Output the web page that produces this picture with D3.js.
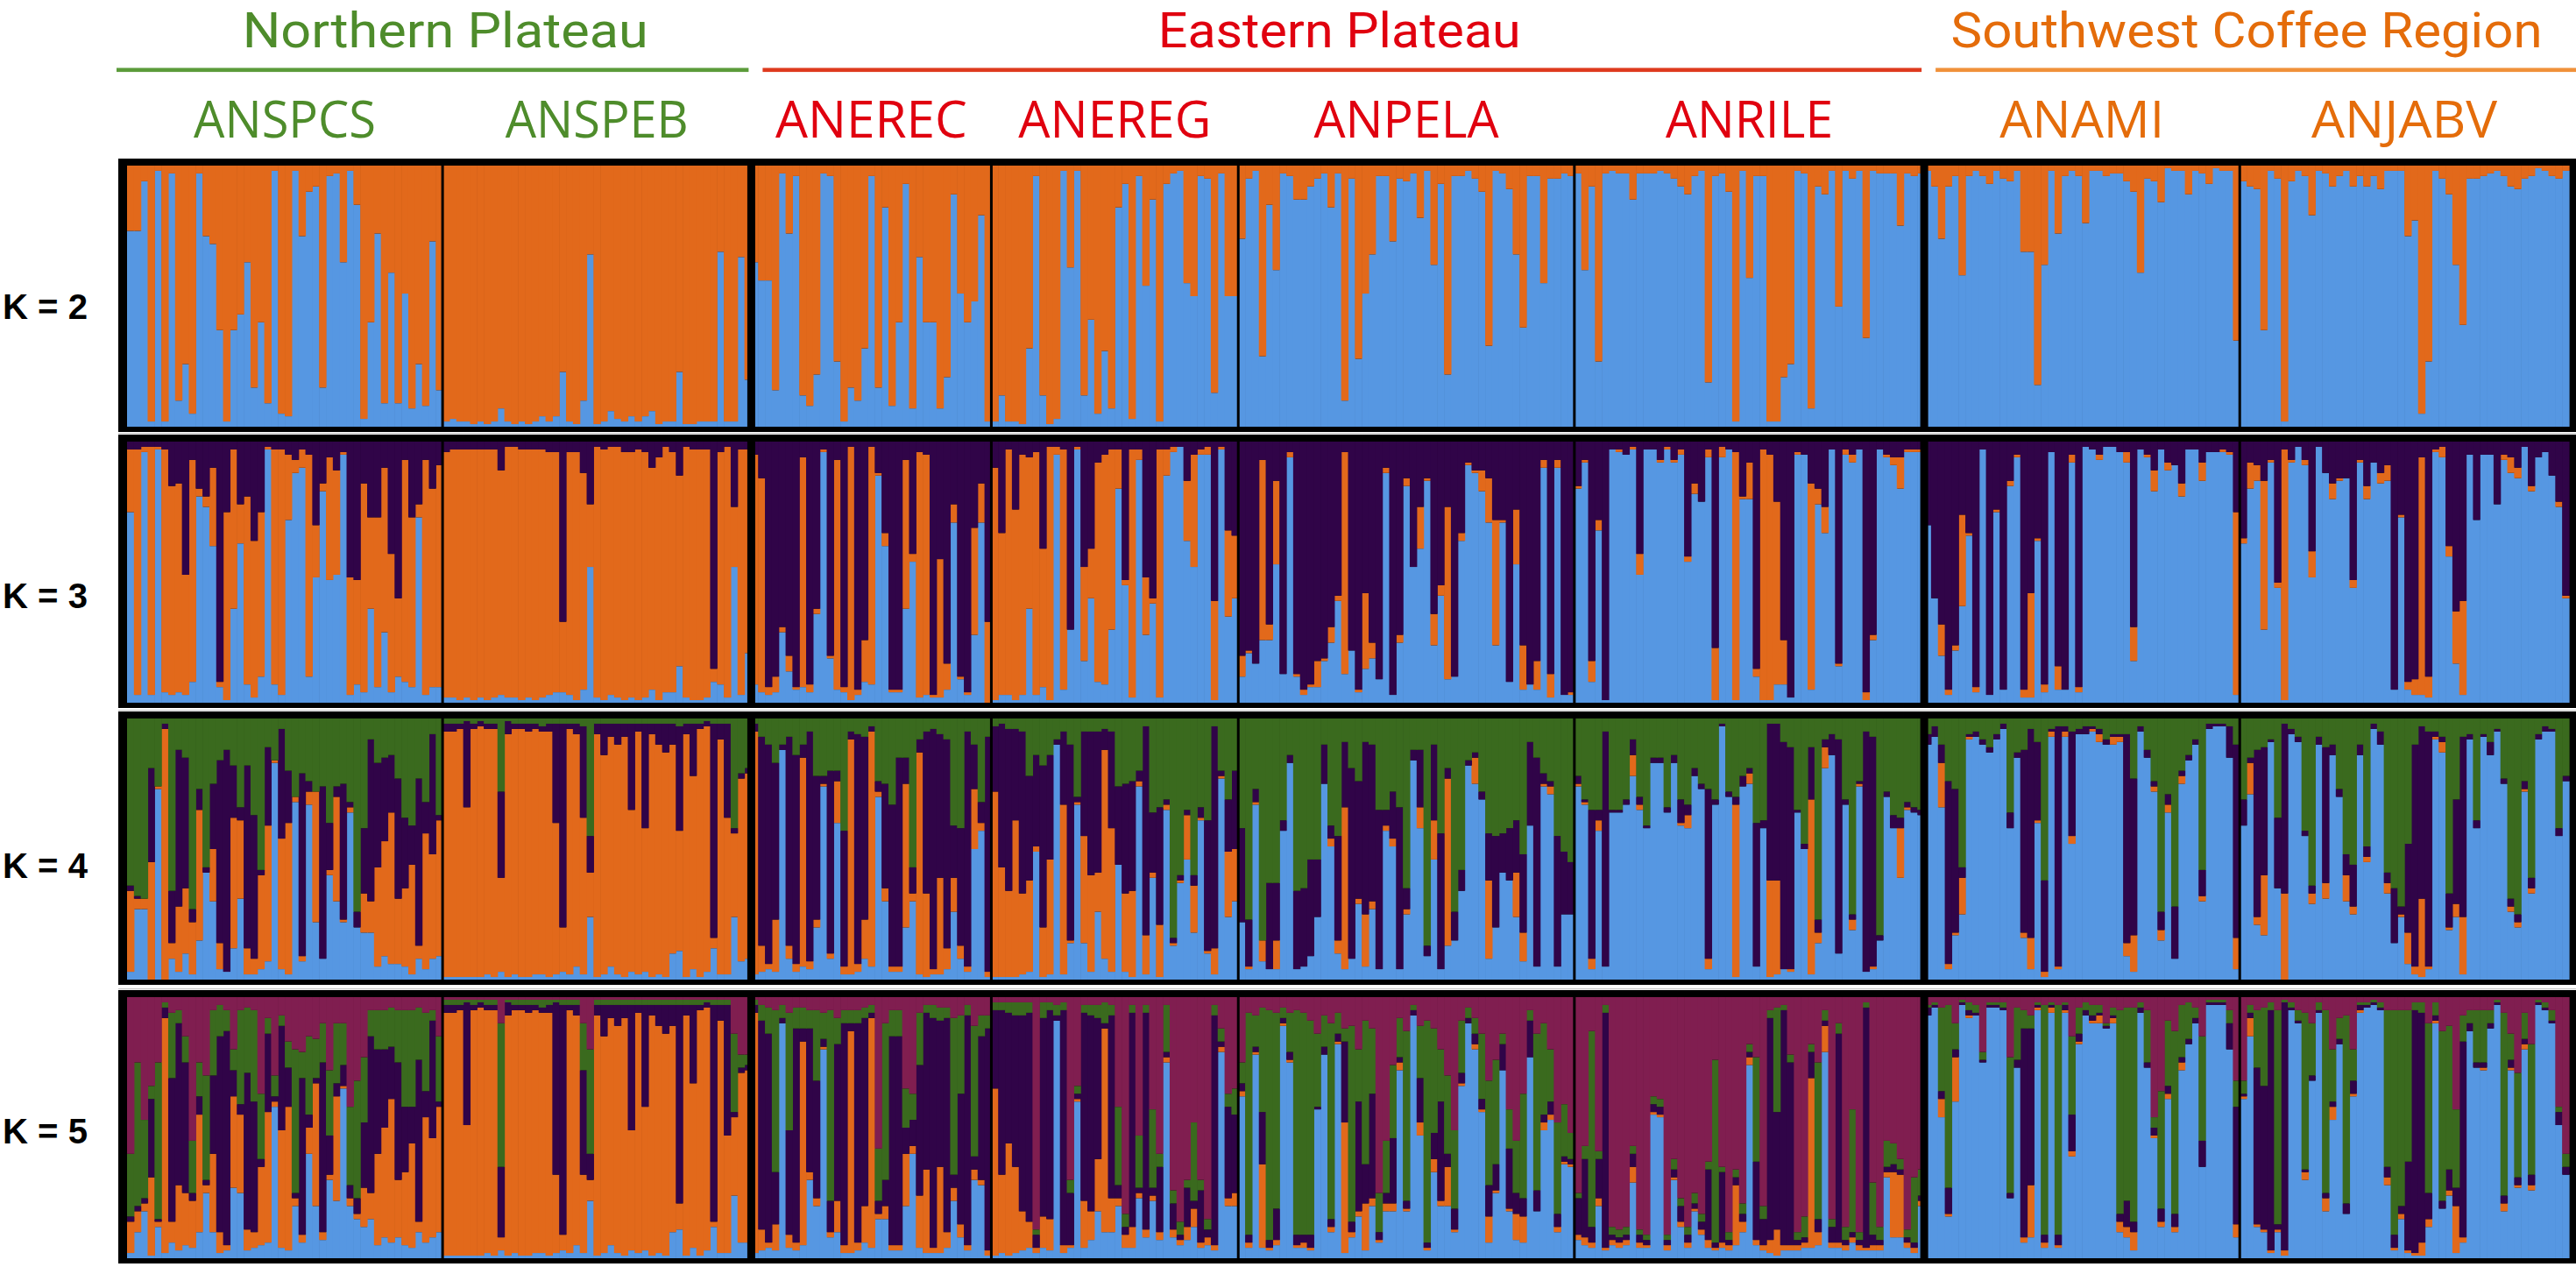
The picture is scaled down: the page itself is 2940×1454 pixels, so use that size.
<!DOCTYPE html>
<html>
<head>
<meta charset="utf-8">
<script src="https://cdn.jsdelivr.net/npm/d3@7"></script>
<style>
html,body{margin:0;padding:0;background:#fff;overflow:hidden;}
svg{display:block;}
</style>
</head>
<body>
<svg id="chart" width="2940" height="1454"></svg>
<script>
// ---------------- data ----------------
const populations = ["ANSPCS","ANSPEB","ANEREC","ANEREG","ANPELA","ANRILE","ANAMI","ANJABV"];
const popSizes    = [46,45,35,36,49,51,46,48];
const popRegion   = [0,0,1,1,1,1,2,2];
const regionNames = ["Northern Plateau","Eastern Plateau","Southwest Coffee Region"];
const kLabels     = ["K = 2","K = 3","K = 4","K = 5"];
// cluster order, bottom to top: blue, orange, purple, green, maroon
const clusterColors = ["#5697E2","#E2691B","#300448","#3A6A1E","#801E50"];

// K=2: % blue (orange is the rest)
const k2Blue = [
 75,75,94,2,98,2,97,10,24,5, 97,73,70,37,2,37,43,63,15,40, 9,98,5,4,98,73,90,92,15,96, 97,63,98,85,3,40,74,9,59,9, 51,7,24,8,71,14,
 2,3,2,2,1,2,1,2,7,2, 1,2,1,2,4,2,4,21,2,1, 10,66,1,2,6,3,2,4,2,4, 6,1,2,2,21,1,1,2,2,2, 67,2,2,65,18,
 63,56,56,14,97,74,96,12,8,20, 97,96,25,2,15,10,30,96,15,84, 8,40,93,7,65,40,40,7,19,89, 51,40,48,81,2,
 2,12,2,2,1,30,96,12,1,3, 98,61,98,12,41,5,29,7,84,93, 3,96,54,87,2,93,97,98,55,50, 96,95,13,97,50,50,
 72,95,98,27,85,60,97,96,87,87, 92,95,97,84,97,10,95,26,51,66, 96,96,71,95,94,97,80,98,62,93, 20,96,96,98,95,90,31,98,97,91, 66,38,96,96,55,95,95,97,96,
 97,60,92,25,97,98,97,97,87,97, 97,97,98,97,95,92,89,96,98,17, 96,97,90,2,98, 57,96,96,2,2,19,24,98,97,7, 92,89,98,46,98,95,98,34,98,97, 97,97,77,97,96,97,
 98,92,72,92,96,58,96,98,96,93, 98,95,94,98,67,67,16,62,98,74, 96,98,96,78,98,98,96,97,97,94, 90,59,95,94,86,99,98,98,89,98, 97,93,99,98,98,33,
 94,92,91,37,98,95,2,94,98,96, 81,98,97,92,96,98,92,96,92,96, 91,98,98,98,73,79,5,25,98,95, 89,62,39,95,95,96,97,98,96,92, 91,95,96,99,98,96,95,98
];

// K=3: [% blue, % orange] (purple is the rest)
const k3Data = [
 [73,24],[3,94],[96,2],[3,95],[97,1],[4,93],[3,80],[4,80],[3,46],[8,85],
 [79,3],[75,4],[60,30],[6,2],[1,72],[36,61],[61,15],[7,72],[2,60],[10,63],
 [97,1],[7,90],[3,94],[70,25],[88,5],[90,7],[10,85],[48,20],[81,3],[47,47],
 [49,40],[95,1],[3,45],[7,40],[4,80],[36,35],[6,65],[27,63],[4,53],[10,30],
 [8,85],[6,65],[71,5],[3,90],[6,76],[6,85],
 [2,94],[2,95],[1,96],[2,95],[1,96],[2,95],[1,96],[2,95],[3,86],[2,96],
 [2,96],[1,96],[2,95],[1,96],[2,95],[3,93],[4,92],[4,27],[3,93],[1,95],
 [5,83],[52,24],[2,96],[1,96],[3,95],[2,96],[1,95],[2,94],[1,96],[2,94],
 [5,85],[1,93],[4,94],[4,92],[14,73],[2,96],[1,96],[1,96],[2,95],[8,5],
 [7,89],[2,96],[52,23],[3,94],[19,78],
 [7,88],[4,82],[3,3],[4,6],[27,2],[12,6],[5,1],[6,88],[4,3],[34,2],
 [96,1],[17,1],[5,88],[4,2],[1,97],[3,2],[8,16],[7,91],[87,1],[60,5],
 [4,1],[4,1],[36,57],[54,3],[2,94],[3,92],[2,1],[2,53],[5,10],[69,7],
 [9,1],[3,1],[26,41],[69,15],[0,31],
 [1,89],[3,62],[3,94],[1,73],[3,92],[36,58],[3,93],[6,53],[1,97],[95,3],
 [5,92],[28,0],[97,1],[16,36],[40,19],[8,84],[7,88],[28,69],[82,15],[45,2],
 [2,95],[93,4],[26,22],[38,2],[2,95],[87,10],[96,2],[98,0],[62,23],[52,43],
 [95,2],[95,3],[1,38],[97,1],[33,33],[40,24],
 [10,8],[19,1],[15,0],[24,69],[24,6],[53,32],[11,0],[94,2],[10,1],[3,2],
 [6,1],[6,10],[16,1],[23,6],[39,2],[11,85],[20,0],[4,1],[13,29],[17,6],
 [9,0],[88,2],[3,0],[23,3],[83,3],[52,0],[59,16],[85,1],[22,12],[41,4],
 [9,66],[10,0],[62,3],[91,1],[88,1],[81,8],[69,17],[22,48],[69,1],[8,0],
 [53,21],[5,17],[7,0],[5,11],[90,3],[2,9],[90,3],[3,0],[3,1],
 [82,1],[92,1],[8,8],[66,4],[1,0],[97,0],[96,1],[95,0],[97,1],[49,8],
 [97,0],[97,0],[92,1],[97,1],[92,1],[95,2],[54,2],[80,4],[77,0],[94,3],
 [1,20],[94,4],[97,0],[1,95],[78,1],[78,14],[10,3],[1,96],[1,94],[7,70],
 [7,17],[2,0],[95,1],[95,0],[5,79],[76,6],[65,10],[97,0],[14,1],[95,2],
 [92,3],[97,0],[1,3],[24,2],[97,0],[94,1],[91,3],[82,12],[96,1],[96,1],
 [96,1],
 [68,0],[40,0],[18,12],[3,2],[20,2],[37,35],[64,1],[4,2],[97,0],[3,0],
 [73,1],[5,0],[83,2],[94,1],[2,3],[2,40],[62,1],[4,3],[96,0],[5,9],
 [5,0],[92,3],[4,2],[98,0],[97,0],[93,2],[98,0],[98,0],[96,0],[92,4],
 [16,13],[97,0],[94,1],[81,8],[97,0],[89,3],[91,0],[79,5],[97,0],[97,0],
 [85,7],[96,0],[96,0],[96,1],[95,1],[3,70],
 [61,2],[82,10],[85,6],[28,57],[92,1],[44,2],[1,96],[92,1],[98,0],[91,2],
 [48,10],[98,0],[88,0],[78,6],[85,1],[86,0],[44,3],[92,1],[78,5],[92,0],
 [84,4],[85,6],[5,0],[71,1],[5,3],[3,6],[3,91],[2,8],[96,1],[94,4],
 [56,4],[15,20],[3,36],[95,0],[70,0],[95,0],[95,0],[76,0],[93,2],[88,6],
 [86,4],[98,0],[81,2],[94,0],[96,0],[87,0],[75,2],[40,1]
];

// K=4: [% blue, % orange, % purple, % green]
const k4Data = [
 [3,31,2,64],[27,4,1,68],[27,4,0,69],[0,45,36,19],[73,1,0,26],[0,96,2,2],[8,6,20,66],[3,25,60,12],[10,25,50,15],[2,20,5,73],
 [15,50,8,27],[41,0,2,57],[30,20,25,25],[4,10,70,16],[3,0,85,12],[12,50,20,18],[31,30,5,34],[2,10,70,18],[2,6,55,37],[4,36,2,58],
 [7,52,30,11],[83,1,0,16],[4,50,42,4],[2,58,20,20],[68,2,0,30],[7,2,70,21],[67,5,4,24],[22,50,0,28],[8,0,66,26],[40,2,18,40],
 [30,40,4,26],[22,1,52,25],[64,2,2,32],[20,0,6,74],[18,15,25,42],[18,12,62,8],[5,38,40,17],[9,44,32,15],[6,58,22,14],[6,25,46,23],
 [5,30,27,38],[2,42,15,41],[8,5,64,23],[4,52,12,32],[8,40,46,6],[9,52,2,37],
 [1,94,3,2],[1,94,3,2],[1,95,2,2],[1,65,33,1],[1,95,2,2],[1,96,2,1],[2,94,2,2],[1,95,2,2],[3,36,33,28],[1,93,5,1],
 [2,94,2,2],[1,95,2,2],[1,94,3,2],[2,94,2,2],[2,93,2,3],[1,94,3,2],[2,58,38,2],[3,17,78,2],[2,94,2,2],[5,89,4,2],
 [2,60,35,3],[24,17,14,45],[1,93,4,2],[2,84,12,2],[5,88,5,2],[2,88,8,2],[1,92,5,2],[3,62,33,2],[2,93,3,2],[3,55,40,2],
 [1,93,4,2],[2,88,8,2],[1,86,11,2],[10,80,8,2],[11,46,40,3],[1,93,4,2],[4,74,20,2],[1,95,2,2],[3,94,2,1],[12,4,82,2],
 [2,90,6,2],[2,60,36,2],[24,32,2,42],[7,70,2,21],[8,71,2,19],
 [2,93,3,2],[3,10,80,7],[4,2,84,10],[3,20,60,17],[88,0,2,10],[8,5,80,7],[3,3,80,14],[5,80,5,10],[4,3,88,5],[20,3,55,22],
 [74,1,3,22],[8,2,70,20],[60,16,4,20],[2,3,52,43],[2,90,3,5],[3,3,88,6],[8,15,70,7],[5,90,2,3],[70,2,4,24],[30,5,40,25],
 [3,2,62,33],[3,2,80,15],[20,55,10,15],[30,3,10,57],[2,85,5,8],[1,32,62,5],[2,2,92,4],[2,37,55,6],[4,8,80,8],[26,13,20,41],
 [8,5,45,42],[3,2,90,5],[50,23,17,10],[57,3,8,32],[1,2,90,7],
 [1,71,25,3],[1,42,55,2],[1,33,62,4],[1,60,35,4],[2,31,62,5],[3,35,40,22],[49,2,35,14],[1,19,62,18],[2,44,40,14],[90,0,2,8],
 [2,65,28,5],[14,1,75,10],[67,1,2,30],[14,41,40,5],[3,37,55,5],[26,15,54,5],[8,80,8,4],[3,55,37,5],[44,0,30,26],[3,30,42,25],
 [1,33,42,24],[74,2,4,20],[2,15,80,3],[39,2,23,36],[1,20,45,34],[65,2,2,31],[13,1,2,84],[37,1,2,60],[46,17,2,35],[18,18,4,60],
 [61,1,4,34],[10,1,50,39],[2,10,85,3],[77,1,2,20],[24,25,20,31],[30,20,30,20],
 [22,0,36,42],[4,1,18,77],[67,1,5,27],[7,8,0,85],[4,0,33,63],[4,11,22,63],[57,0,4,39],[83,0,3,14],[4,0,30,66],[5,0,30,65],
 [9,0,37,54],[24,0,22,54],[75,0,15,10],[51,3,5,41],[10,5,40,45],[4,62,25,9],[8,0,73,19],[29,2,45,24],[5,20,66,9],[27,3,60,10],
 [4,0,61,35],[57,2,6,35],[51,3,18,28],[4,0,62,34],[25,2,8,65],[84,0,4,12],[58,8,22,12],[9,0,4,87],[46,15,29,10],[4,0,52,44],
 [13,64,4,19],[15,0,11,74],[34,0,8,58],[82,0,2,16],[75,10,2,13],[69,0,3,28],[8,30,18,44],[20,0,35,45],[41,0,15,44],[38,0,20,42],
 [24,17,20,39],[7,11,30,52],[59,0,32,9],[5,0,80,15],[74,1,4,21],[71,3,2,24],[5,0,50,45],[25,0,24,51],[25,0,20,55],
 [74,1,3,22],[67,1,1,31],[4,4,57,35],[57,4,4,35],[5,0,90,5],[64,0,1,35],[64,0,1,35],[67,0,2,31],[78,8,6,8],[65,2,3,30],
 [58,0,1,41],[83,0,2,15],[83,0,2,15],[64,0,2,34],[83,0,3,14],[59,1,9,31],[58,5,4,33],[78,0,3,19],[73,0,2,25],[4,4,65,27],
 [67,0,2,31],[97,0,1,2],[70,0,2,28],[1,66,3,30],[74,0,4,22],
 [75,4,2,19],[5,0,55,40],[58,0,3,39],[1,37,60,2],[2,36,60,2],[4,0,87,9],[3,1,85,11],[64,0,1,35],[50,0,2,48],[2,67,20,11],
 [14,4,5,77],[81,8,3,8],[86,0,8,6],[10,0,82,8],[67,0,2,31],[19,4,2,75],[74,1,1,24],[3,0,92,5],[4,1,88,7],[15,0,2,83],
 [70,0,2,28],[58,0,5,37],[39,19,4,38],[65,1,2,32],[64,0,2,34],[63,0,2,35],
 [90,0,4,6],[93,0,4,3],[66,17,7,10],[4,2,70,24],[17,1,55,27],[25,14,4,57],[92,1,1,6],[93,0,2,5],[90,0,2,8],[87,0,2,11],
 [92,0,2,6],[96,0,2,2],[58,0,6,36],[85,0,2,13],[16,2,70,12],[4,12,80,4],[60,1,30,9],[1,2,35,62],[93,2,1,4],[4,1,92,3],
 [93,2,2,3],[52,3,40,5],[94,0,2,4],[94,0,3,3],[95,1,1,3],[91,3,2,4],[90,0,2,8],[90,3,1,6],[91,2,1,6],[9,5,80,6],
 [3,14,60,23],[95,0,2,3],[85,0,3,12],[72,2,2,24],[15,4,7,74],[64,3,4,29],[8,0,20,72],[75,3,2,20],[84,0,2,14],[90,0,2,8],
 [30,2,10,58],[96,0,2,2],[97,0,1,2],[97,0,1,2],[85,0,12,3],[4,12,74,10],
 [59,0,10,31],[71,12,2,15],[21,3,64,12],[17,23,49,11],[91,0,1,8],[35,0,27,38],[0,33,65,2],[94,0,2,4],[91,0,2,7],[55,0,2,43],
 [29,4,3,64],[90,0,3,7],[31,6,52,11],[86,0,4,10],[70,0,3,27],[30,10,8,52],[25,3,16,56],[86,0,4,10],[45,2,4,49],[96,0,2,2],
 [90,0,5,5],[33,4,4,59],[14,0,21,65],[24,1,3,72],[6,12,34,48],[2,3,85,10],[1,30,66,3],[4,1,90,5],[92,1,2,5],[87,4,2,7],
 [19,1,13,67],[24,5,40,31],[2,22,69,7],[92,0,2,6],[58,0,3,39],[93,0,1,6],[86,0,5,9],[95,0,1,4],[75,0,2,23],[26,2,3,69],
 [20,2,3,75],[72,1,3,24],[33,2,4,61],[92,0,2,6],[95,0,2,3],[95,0,1,4],[55,0,3,42],[76,0,2,22]
];

// K=5: [% blue, % orange, % purple, % green, % maroon]
const k5Data = [
 [2,12,2,24,60],[10,8,2,55,25],[18,3,2,30,47],[1,30,30,5,34],[12,2,1,60,25],[2,90,4,2,2],[6,8,55,25,6],[3,25,62,5,5],[5,20,50,10,15],[4,18,3,20,55],
 [10,45,7,13,25],[25,3,2,40,30],[10,30,30,25,5],[2,8,75,12,3],[3,2,82,8,5],[27,35,10,8,20],[25,30,4,36,5],[3,8,60,25,4],[4,6,50,35,5],[5,30,3,25,37],
 [6,50,30,6,8],[58,2,2,8,30],[4,45,40,4,7],[3,55,15,10,17],[20,3,2,55,20],[6,3,60,10,21],[40,10,5,30,15],[20,47,2,15,16],[7,3,65,15,10],[30,2,15,25,28],
 [22,40,5,23,10],[65,1,8,16,10],[20,3,5,30,42],[15,2,6,45,32],[12,15,25,25,23],[15,10,60,10,5],[5,35,40,15,5],[8,42,30,15,5],[6,55,20,15,4],[8,22,45,20,5],
 [5,28,25,37,5],[4,40,14,37,5],[10,4,62,20,4],[6,48,10,30,6],[8,38,45,4,5],[10,48,2,25,15],
 [1,93,3,2,1],[1,93,3,2,1],[1,94,2,2,1],[1,50,47,1,1],[1,94,2,2,1],[1,95,2,1,1],[2,93,2,2,1],[1,94,2,2,1],[3,5,27,55,10],[1,92,5,1,1],
 [2,93,2,2,1],[1,94,2,2,1],[1,93,3,2,1],[2,93,2,2,1],[2,92,2,3,1],[1,93,3,2,1],[2,30,66,1,1],[3,6,88,2,1],[2,93,2,2,1],[5,88,4,2,1],
 [2,30,40,18,10],[22,8,10,40,20],[1,92,4,2,1],[2,83,12,2,1],[5,87,5,2,1],[2,87,8,2,1],[1,91,5,2,1],[3,46,48,2,1],[2,92,3,2,1],[3,55,39,2,1],
 [1,92,4,2,1],[2,87,8,2,1],[1,85,11,2,1],[10,79,8,2,1],[11,10,76,2,1],[1,92,4,2,1],[4,63,30,2,1],[1,94,2,2,1],[3,93,2,1,1],[12,2,83,2,1],
 [2,89,6,2,1],[2,45,50,2,1],[24,30,2,30,14],[6,65,2,5,22],[6,66,2,4,22],
 [2,92,3,2,1],[3,8,80,6,3],[4,2,80,10,4],[3,10,20,62,5],[90,0,2,5,3],[4,5,40,45,6],[3,3,82,8,4],[5,78,5,8,4],[30,3,55,7,5],[20,3,45,27,5],
 [80,1,3,10,6],[8,2,12,73,5],[10,12,60,10,8],[2,3,85,5,5],[2,85,3,5,5],[3,3,84,5,5],[6,14,72,4,4],[4,88,2,3,3],[15,2,5,20,58],[15,5,10,60,10],
 [3,2,80,10,5],[3,2,80,10,5],[20,20,10,15,35],[40,3,10,10,37],[4,20,50,20,6],[2,32,60,3,3],[2,2,88,5,3],[2,33,56,5,4],[4,6,82,4,4],[22,5,5,60,8],
 [8,5,50,30,7],[3,2,88,4,3],[30,4,5,50,11],[28,2,55,8,7],[1,2,85,5,7],
 [1,64,30,3,2],[2,30,63,3,2],[1,43,50,4,2],[2,33,58,5,2],[3,15,75,5,2],[4,10,80,4,2],[2,2,5,2,89],[4,12,76,6,2],[3,12,80,3,2],[91,0,2,4,3],
 [2,3,90,3,2],[4,1,20,5,70],[60,1,2,3,34],[4,18,72,3,3],[7,11,75,4,3],[18,20,54,5,3],[10,78,2,8,2],[10,13,70,4,3],[20,3,5,30,42],[4,5,3,5,83],
 [4,8,82,3,3],[23,2,2,20,53],[8,3,83,3,3],[22,2,3,30,43],[7,3,25,5,60],[75,2,2,18,3],[8,3,10,5,74],[5,2,2,5,86],[7,5,15,3,70],[12,7,3,30,48],
 [4,2,20,4,70],[5,3,3,4,85],[3,2,88,4,3],[79,2,2,5,12],[20,3,35,5,37],[20,5,30,10,35],
 [62,2,3,8,25],[4,2,3,85,6],[78,1,2,12,7],[4,32,20,40,4],[3,1,3,88,5],[5,2,12,75,6],[89,1,2,4,4],[75,1,3,15,6],[4,1,4,86,5],[4,2,3,85,6],
 [3,1,5,82,9],[57,0,1,28,14],[78,0,3,12,7],[10,2,3,75,10],[82,1,3,8,6],[2,50,31,5,12],[8,2,4,75,11],[16,2,42,20,20],[3,18,15,55,9],[20,3,40,25,12],
 [6,1,3,15,75],[18,3,4,20,55],[18,3,25,28,26],[72,3,2,15,8],[18,1,3,65,13],[93,0,2,2,3],[47,5,17,20,11],[3,1,2,85,9],[33,5,10,40,12],[20,2,38,20,20],
 [20,15,5,30,30],[10,1,8,30,51],[66,1,4,20,9],[90,0,2,4,4],[80,2,4,6,8],[56,1,4,25,14],[6,10,12,40,32],[25,1,10,40,24],[72,0,10,4,14],[18,1,23,15,43],
 [7,10,8,20,55],[6,10,7,40,37],[77,0,14,4,5],[18,0,8,60,14],[49,3,3,35,10],[53,2,5,20,20],[10,2,5,35,48],[36,1,2,20,41],[35,1,2,10,52],
 [7,2,14,2,75],[5,3,30,5,57],[4,2,6,75,13],[20,3,15,3,59],[3,1,90,3,3],[5,2,2,3,88],[4,2,2,3,89],[5,2,2,3,88],[29,6,5,3,57],[4,2,3,2,89],
 [4,1,2,2,91],[55,1,3,3,38],[54,1,3,3,39],[3,2,2,2,91],[30,1,3,4,62],[12,2,6,3,77],[4,2,3,3,88],[18,1,2,4,75],[9,2,3,3,83],[4,3,27,3,63],
 [3,1,2,70,24],[4,2,27,2,65],[3,2,2,3,90],[5,23,3,3,66],[10,4,3,4,79],
 [74,3,2,3,18],[5,2,30,40,23],[3,2,10,5,80],[2,5,85,3,5],[1,10,45,40,4],[3,2,90,2,3],[3,2,70,3,22],[3,2,2,3,90],[4,2,2,8,84],[4,65,10,3,18],
 [5,5,5,60,25],[79,10,2,4,5],[4,2,6,3,85],[4,2,80,4,10],[3,2,2,5,88],[6,2,2,47,43],[3,2,2,3,90],[3,1,92,2,2],[3,2,4,20,71],[3,2,2,5,88],
 [31,2,2,10,55],[8,25,3,8,56],[8,24,2,4,62],[4,2,2,3,89],[2,2,2,25,69],[20,2,2,10,66],
 [93,0,3,1,3],[96,0,1,1,2],[54,7,3,32,4],[16,1,10,70,3],[60,17,3,10,10],[97,0,1,1,1],[92,1,2,3,2],[93,0,1,3,3],[75,0,1,3,21],[96,0,1,1,2],
 [96,0,1,1,2],[95,0,1,2,2],[23,0,2,52,23],[73,0,3,20,4],[6,2,80,7,5],[8,20,60,5,7],[95,1,1,1,2],[4,2,3,88,3],[94,2,1,1,2],[4,1,4,88,3],
 [94,1,2,1,2],[39,2,14,30,15],[82,1,3,10,4],[93,0,2,3,2],[90,1,2,4,3],[90,3,1,3,3],[88,0,1,1,10],[90,2,1,3,4],[10,4,3,78,5],[8,4,10,74,4],
 [3,7,4,82,4],[94,0,2,2,2],[73,0,2,20,5],[46,1,3,4,46],[12,2,5,45,36],[61,2,3,25,9],[10,2,5,70,13],[72,3,2,20,3],[82,0,2,14,2],[90,0,2,4,4],
 [35,0,10,40,15],[97,0,1,1,1],[97,0,1,1,1],[97,0,1,1,1],[80,0,10,5,5],[8,5,45,10,32],
 [61,1,1,5,32],[85,7,2,3,3],[12,1,60,22,5],[10,1,55,30,4],[2,1,92,3,2],[10,1,2,82,5],[1,2,95,1,1],[95,0,1,2,2],[90,0,1,4,5],[30,3,1,60,6],
 [68,0,2,20,10],[94,0,1,3,2],[18,5,2,70,5],[53,5,2,20,20],[82,0,2,8,8],[17,0,4,72,7],[62,1,5,12,20],[94,1,2,1,2],[96,0,1,1,2],[97,0,1,1,1],
 [95,0,1,2,2],[28,3,4,60,5],[3,1,5,86,5],[15,2,3,75,5],[2,1,34,58,5],[1,1,93,3,2],[1,5,88,4,2],[12,3,10,65,10],[90,1,2,5,2],[19,0,3,65,13],
 [24,2,8,55,11],[2,18,7,30,43],[6,2,75,10,7],[87,0,3,5,5],[73,0,2,20,5],[72,1,2,20,5],[88,0,2,5,5],[97,0,1,1,1],[18,3,3,70,6],[72,1,3,10,14],
 [27,1,3,40,29],[80,2,2,10,6],[26,2,4,50,18],[97,0,1,1,1],[95,0,1,2,2],[90,0,1,4,5],[51,0,5,2,42],[32,0,3,5,60]
];

// ---------------- layout / style ----------------
const W = 2940, H = 1454;
const plotLeft = 145, plotRight = 2932;
const rowTops = [189, 504, 820, 1138];
const rowH = 298;
const kLabelOffset = [12, 27, 19, 4];
const regionTextColors = ["#4E8C2B", "#E0000F", "#E46C0A"];
const regionLineColors = ["#5B9B3A", "#DE3A1E", "#F0913A"];
const popLabelWidths = [208, 209, 219, 220, 211, 191, 188, 212];
const regionLabelWidths = [463, 414, 675];

const svg = d3.select("#chart");
svg.append("rect").attr("width", W).attr("height", H).attr("fill", "#fff");

const N = d3.sum(popSizes);
const x = d3.scaleBand().domain(d3.range(N)).range([plotLeft, plotRight]).padding(0);
const popStart = d3.cumsum([0, ...popSizes]).slice(0, popSizes.length);
const popEnd = popStart.map((s, i) => s + popSizes[i]);
const xAt = idx => idx >= N ? plotRight : x(idx);

const datasets = [k2Blue.map(b => [b]), k3Data, k4Data, k5Data];

datasets.forEach((rows, r) => {
  const K = r + 2;
  const table = rows.map(v => {
    const vals = v.slice(0, K);
    if (vals.length < K) vals.push(Math.max(0, 100 - d3.sum(vals)));
    const tot = d3.sum(vals) || 1;
    const o = {};
    vals.forEach((q, j) => { o[j] = q / tot; });
    return o;
  });
  const series = d3.stack().keys(d3.range(K))(table);
  const top = rowTops[r];
  const y = d3.scaleLinear().domain([0, 1]).range([top + rowH, top]);

  const g = svg.append("g");
  // black frame of the row
  g.append("rect").attr("x", 135).attr("y", top - 8)
    .attr("width", W - 135).attr("height", rowH + 14).attr("fill", "#000");

  series.forEach(layer => {
    g.append("g").selectAll("rect").data(layer).join("rect")
      .attr("x", (d, i) => x(i))
      .attr("width", x.bandwidth() + 0.6)
      .attr("y", d => y(d[1]))
      .attr("height", d => Math.max(0, y(d[0]) - y(d[1])))
      .attr("fill", clusterColors[layer.key]);
  });

  // population separators
  popStart.forEach((s, p) => {
    if (p === 0) return;
    const thick = popRegion[p] !== popRegion[p - 1];
    const w = thick ? 9 : 3;
    g.append("rect").attr("x", x(s) - w / 2).attr("y", top - 8)
      .attr("width", w).attr("height", rowH + 14).attr("fill", "#000");
  });

  // K label
  svg.append("text")
    .attr("x", 3).attr("y", top + rowH / 2 + kLabelOffset[r] + 14)
    .attr("font-family", "'Liberation Sans', Arial, sans-serif")
    .attr("font-weight", "bold").attr("font-size", 40)
    .attr("textLength", 97).attr("lengthAdjust", "spacingAndGlyphs")
    .attr("fill", "#000").text(kLabels[r]);
});

// faint grey lines in the gaps between rows
rowTops.slice(1).forEach(t => {
  svg.append("rect").attr("x", 135).attr("y", t - 10).attr("width", W - 135)
    .attr("height", 1.2).attr("fill", "#c8c8c8");
});

// region headers
d3.range(regionNames.length).forEach(ri => {
  const pops = d3.range(populations.length).filter(p => popRegion[p] === ri);
  const s = popStart[pops[0]], e = popEnd[pops[pops.length - 1]];
  const x0 = ri === 0 ? xAt(s) - 12 : xAt(s) + 13;
  const x1 = ri === regionNames.length - 1 ? W : xAt(e) - 3;
  svg.append("rect").attr("x", x0).attr("y", 77.5).attr("width", x1 - x0).attr("height", 4.6)
    .attr("fill", regionLineColors[ri]);
  const cx = (xAt(s) + xAt(e)) / 2 + (ri === 0 ? 7 : ri === 1 ? 2 : 0);
  svg.append("text")
    .attr("x", cx).attr("y", 54)
    .attr("text-anchor", "middle")
    .attr("font-family", "Roboto, 'Liberation Sans', sans-serif")
    .attr("font-size", 56)
    .attr("textLength", regionLabelWidths[ri]).attr("lengthAdjust", "spacingAndGlyphs")
    .attr("fill", regionTextColors[ri]).text(regionNames[ri]);
});

// population labels
populations.forEach((name, p) => {
  const cx = (xAt(popStart[p]) + xAt(popEnd[p])) / 2;
  svg.append("text")
    .attr("x", cx).attr("y", 157)
    .attr("text-anchor", "middle")
    .attr("font-family", "'Open Sans', 'Noto Sans', sans-serif")
    .attr("font-size", 59)
    .attr("textLength", popLabelWidths[p]).attr("lengthAdjust", "spacingAndGlyphs")
    .attr("fill", regionTextColors[popRegion[p]]).text(name);
});
</script>
</body>
</html>
